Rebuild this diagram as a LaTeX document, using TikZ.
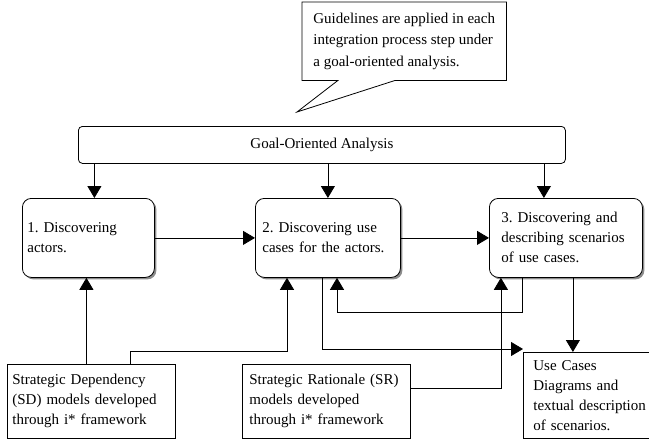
\documentclass[tikz,border=0pt]{standalone}
\usepackage{fontspec}
\setmainfont{Liberation Serif}
\usetikzlibrary{arrows.meta,calc,shadows}
\frenchspacing

\begin{document}
\begin{tikzpicture}[x=1pt,y=-1pt,>={Triangle[length=12pt,width=14pt]},
	every node/.style={font=\fontsize{15pt}{20pt}\selectfont},
	link/.style={line width=0.8pt},
	stepbox/.style={draw,line width=0.8pt,fill=white,rounded corners=9pt,align=left,anchor=north west,minimum height=79pt,
		drop shadow={shadow xshift=2pt,shadow yshift=-2pt,fill=black!45,opacity=1}},
	modelbox/.style={draw,line width=0.8pt,align=left,anchor=north west,minimum height=74pt,inner xsep=5pt}]

\useasboundingbox (0,0) rectangle (649,442);
\clip (0,0) rectangle (649,442);

% callout
\node[anchor=north west,align=left,minimum width=204pt,minimum height=78pt,font=\fontsize{15pt}{21.5pt}\selectfont] (note) at (302,2)
	{Guidelines are applied in each\\integration process step under\\a goal-oriented analysis.};
\coordinate (tip) at (297,112);
\draw[link] (note.south west) -- (note.north west) -- (note.north east) -- (note.south east)
	-- ($(note.south west)!0.456!(note.south east)$) -- (tip) -- ($(note.south west)!0.176!(note.south east)$) -- cycle;

\node[draw,line width=0.8pt,rounded corners=4pt,anchor=north west,minimum width=487pt,minimum height=37pt] (goal) at (78,126) {Goal-Oriented Analysis};

\node[stepbox,text width=122pt,inner xsep=5pt] (b1) at (22,198) {1. Discovering\\actors.};
\node[stepbox,text width=131pt,inner xsep=7pt] (b2) at (255,198) {2. Discovering use\\cases for the actors.};
\node[stepbox,text width=129pt,inner xsep=12pt] (b3) at (489,198) {3. Discovering and\\describing scenarios\\of use cases.};

\node[modelbox,text width=158pt] (sd) at (7,364) {Strategic Dependency\\(SD) models developed\\through i* framework};
\node[modelbox,text width=154pt,inner xsep=7pt] (sr) at (242,364) {Strategic Rationale (SR)\\models developed\\through i* framework};
\node[modelbox,text width=125pt,inner xsep=10pt,inner ysep=2pt,minimum height=86pt] (uc) at (523,352) {Use Cases\\Diagrams and\\textual description\\of scenarios.};

\foreach \b/\dx in {b1/6,b2/0,b3/-22}{
	\draw[link,->] ([xshift=\dx pt]\b.north |- goal.south) -- ([xshift=\dx pt]\b.north);
}
\draw[link,->] (b1) -- (b2);
\draw[link,->] (b2) -- (b3);

\coordinate (k1) at (287,351);
\coordinate (k2) at (337,312);

\draw[link,->] ([xshift=-5pt]sd.north) -- ([xshift=-5pt]sd.north |- b1.south);
\draw[link,->] ([xshift=39pt]sd.north) |- (k1) -- (k1 |- b2.south);
\draw[link,->] ([xshift=-43.5pt]b3.south) |- (k2) -- (k2 |- b2.south);
\draw[link,->] ([xshift=-5.5pt]b2.south) |- ([yshift=3pt]uc.north west);
\draw[link,->] ([xshift=7pt]b3.south) -- ([xshift=7pt]b3.south |- uc.north);
\draw[link,->] ([yshift=13pt]sr.east) -| ([xshift=-65pt]b3.south);

\end{tikzpicture}
\end{document}
